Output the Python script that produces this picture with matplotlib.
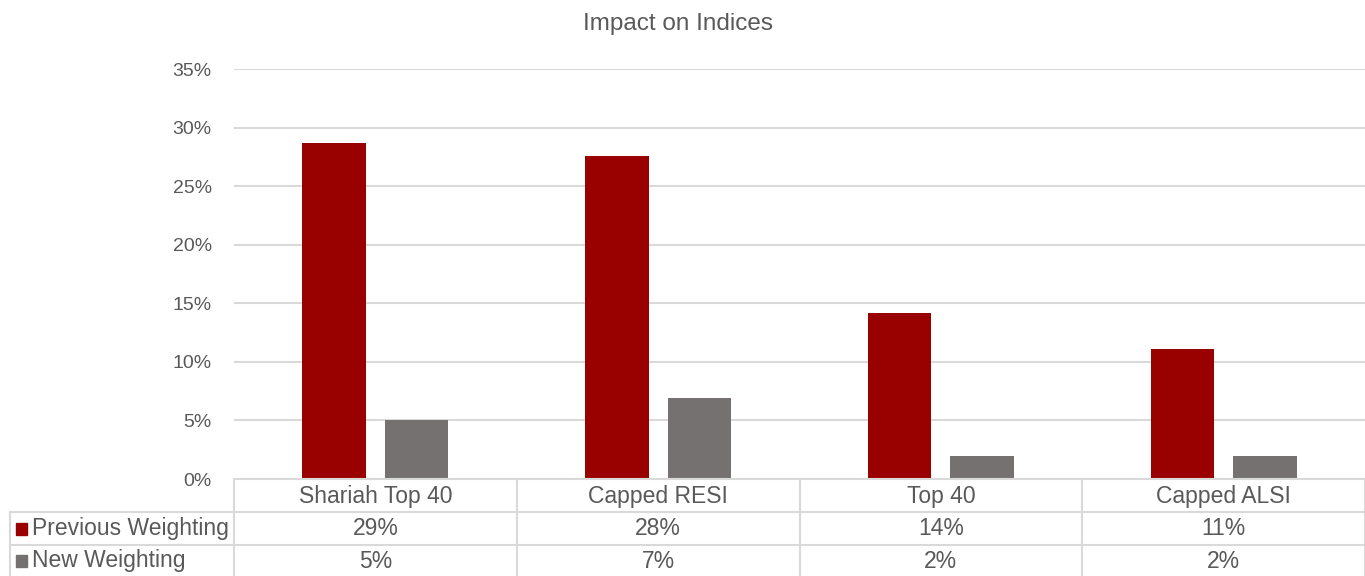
import matplotlib
matplotlib.use("Agg")
import matplotlib.pyplot as plt
import numpy as np
from matplotlib.transforms import blended_transform_factory
from matplotlib.ticker import FuncFormatter

categories = ["Shariah Top 40", "Capped RESI", "Top 40", "Capped ALSI"]
series_names = ["Previous Weighting", "New Weighting"]
previous = [28.7, 27.6, 14.2, 11.1]
new = [5.0, 6.9, 2.0, 2.0]
table_labels = [["29%", "28%", "14%", "11%"], ["5%", "7%", "2%", "2%"]]
colors = ["#990000", "#767171"]

W, H = 1365, 576
plt.rcParams["font.family"] = ["Liberation Sans", "DejaVu Sans"]
TXT = "#595959"
GRID = "#d9d9d9"
FS = 16.5

fig = plt.figure(figsize=(W / 100, H / 100), dpi=100)
ax = fig.add_axes([234 / W, (H - 479) / H, 1131 / W, 410 / H])

x = np.arange(len(categories))
bw = 0.225
ax.bar(x - 0.146, previous, bw, color=colors[0], zorder=3)
ax.bar(x + 0.146, new, bw, color=colors[1], zorder=3)

ax.set_xlim(-0.5, len(categories) - 0.5)
ax.set_ylim(0, 35)
ax.set_yticks(np.arange(0, 36, 5))
ax.yaxis.set_major_formatter(FuncFormatter(lambda v, _: f"{v:.0f}%"))
ax.tick_params(axis="y", length=0, pad=16, labelsize=14, labelcolor=TXT)
ax.set_xticks([])
ax.grid(axis="y", color=GRID, linewidth=1.5, zorder=0)
for s in ax.spines.values():
    s.set_visible(False)

fig.text(0.497, 1 - 24 / H, "Impact on Indices", ha="center", va="center",
         fontsize=17.5, color=TXT)

# data table below the plot (pixel rows)
tr = blended_transform_factory(ax.transData, fig.transFigure)
fy = lambda py: 1 - py / H
fx = lambda px: px / W
rows_y = [479, 512, 545, 577]
lw = 1.5
fig.add_artist(plt.Line2D([fx(234), 1], [fy(479)] * 2, color=GRID, lw=lw))
for py in rows_y[1:3]:
    fig.add_artist(plt.Line2D([fx(10), 1], [fy(py)] * 2, color=GRID, lw=lw))
fig.add_artist(plt.Line2D([fx(10)] * 2, [fy(512), 0], color=GRID, lw=lw))
for b in np.arange(-0.5, len(categories) + 0.5, 1.0):
    px = ax.transData.transform((b, 0))[0]
    fig.add_artist(plt.Line2D([px / W] * 2, [fy(479), 0], color=GRID, lw=lw))

for i, c in enumerate(categories):
    fig.text(x[i], fy(496), c, transform=tr, ha="center", va="center",
             fontsize=FS, color=TXT)
for r, row in enumerate(table_labels):
    yc = fy((rows_y[r + 1] + rows_y[r + 2]) / 2)
    for i, lab in enumerate(row):
        fig.text(x[i], yc, lab, transform=tr, ha="center", va="center",
                 fontsize=FS, color=TXT)
    fig.add_artist(plt.Rectangle((fx(16), yc - 6 / H), 11 / W, 12 / H,
                                 color=colors[r], transform=fig.transFigure))
    fig.text(fx(32), yc, series_names[r], ha="left", va="center",
             fontsize=FS, color=TXT)

fig.savefig("out.png", dpi=100)
